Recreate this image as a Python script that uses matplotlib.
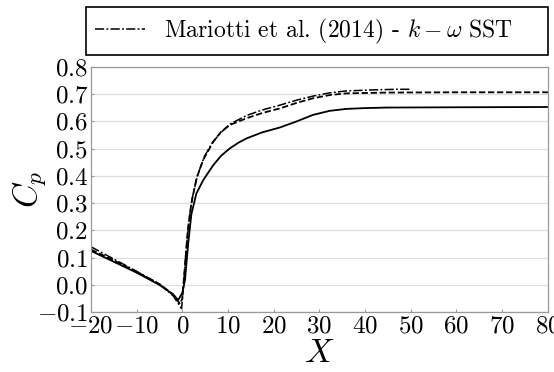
import numpy as np
import matplotlib
matplotlib.use("Agg")
import matplotlib.pyplot as plt

plt.rcParams['font.family'] = 'serif'
plt.rcParams['font.serif'] = ['cmr10']
plt.rcParams['mathtext.fontset'] = 'cm'
plt.rcParams['axes.formatter.use_mathtext'] = True

# pressure coefficient along the wall
x_present = [-20, -15, -10, -5, -2, -0.9, 0.0, 0.6, 1.3, 2.0, 3.1, 4.6, 6.8, 8.5, 10.4,
             12.3, 14.1, 17.5, 21.4, 25, 28.6, 32.3, 35.9, 40, 45, 60, 80]
cp_present = [0.125, 0.085, 0.045, 0.0, -0.035, -0.056, -0.03, 0.018, 0.152, 0.26,
              0.336, 0.385, 0.44, 0.474, 0.501, 0.522, 0.538, 0.56, 0.578, 0.60,
              0.624, 0.639, 0.646, 0.649, 0.651, 0.652, 0.653]

x_dash = [-20, -15, -10, -5, -2, -0.5, 0.0, 0.5, 1.2, 2.0, 3.1, 4.6, 6.8, 8.5, 10.4,
          14.1, 17.5, 21.4, 25, 28.6, 32.3, 35.9, 45, 60, 80]
cp_dash = [0.13, 0.09, 0.048, 0.003, -0.035, -0.07, -0.05, 0.05, 0.2, 0.3,
           0.39, 0.46, 0.526, 0.562, 0.587, 0.612, 0.631, 0.648, 0.668, 0.685,
           0.697, 0.703, 0.706, 0.707, 0.707]

x_mariotti = [-20, -15, -10, -5, -2, -0.15, 0.2, 0.8, 1.5, 2.2, 3.3, 4.8, 6.5, 8.2,
              10.4, 14.1, 17.5, 21.4, 25, 28.6, 32.3, 35.9, 42, 46.9, 50]
cp_mariotti = [0.14, 0.095, 0.05, 0.003, -0.04, -0.087, -0.02, 0.12, 0.24, 0.32,
               0.40, 0.47, 0.52, 0.555, 0.59, 0.622, 0.642, 0.66, 0.678, 0.693,
               0.705, 0.712, 0.716, 0.718, 0.718]

fig = plt.figure(figsize=(5.54, 3.72), dpi=100)
ax = fig.add_axes([0.164, 0.161, 0.825, 0.659])

ax.plot(x_present, cp_present, 'k-', lw=1.3)
ax.plot(x_dash, cp_dash, 'k', ls=(0, (3.5, 1.5)), lw=1.3)
ax.plot(x_mariotti, cp_mariotti, 'k', ls=(0, (6, 1.5, 1.2, 1.5)), lw=1.1,
        label=r'Mariotti et al. (2014) - $k-\omega$ SST')

ax.set_xlim(-20, 80)
ax.set_ylim(-0.1, 0.8)
ax.set_xticks(np.arange(-20, 81, 10))
ax.set_yticks(np.arange(-0.1, 0.81, 0.1))
ax.yaxis.grid(True, color='#dddddd', lw=0.9)
ax.set_axisbelow(True)
for s in ax.spines.values():
    s.set_color('#999999')
    s.set_linewidth(0.9)
ax.tick_params(direction='in', length=2.5, color='#999999', labelsize=18, pad=2)

ax.set_xlabel(r'$X$', fontsize=24)
ax.set_ylabel(r'$C_p$', fontsize=24)
ax.xaxis.set_label_coords(0.5, -0.108)
ax.yaxis.set_label_coords(-0.094, 0.5)

fig.legend(loc='lower left', bbox_to_anchor=(86/554, 1-55/372, 462/554, 50/372),
           mode='expand', fontsize=17, fancybox=False, edgecolor='k',
           framealpha=1, handlelength=2.1, handletextpad=0.8, borderaxespad=0)
fig.legends[0].get_frame().set_linewidth(1.2)

plt.savefig('out.png', dpi=100)
